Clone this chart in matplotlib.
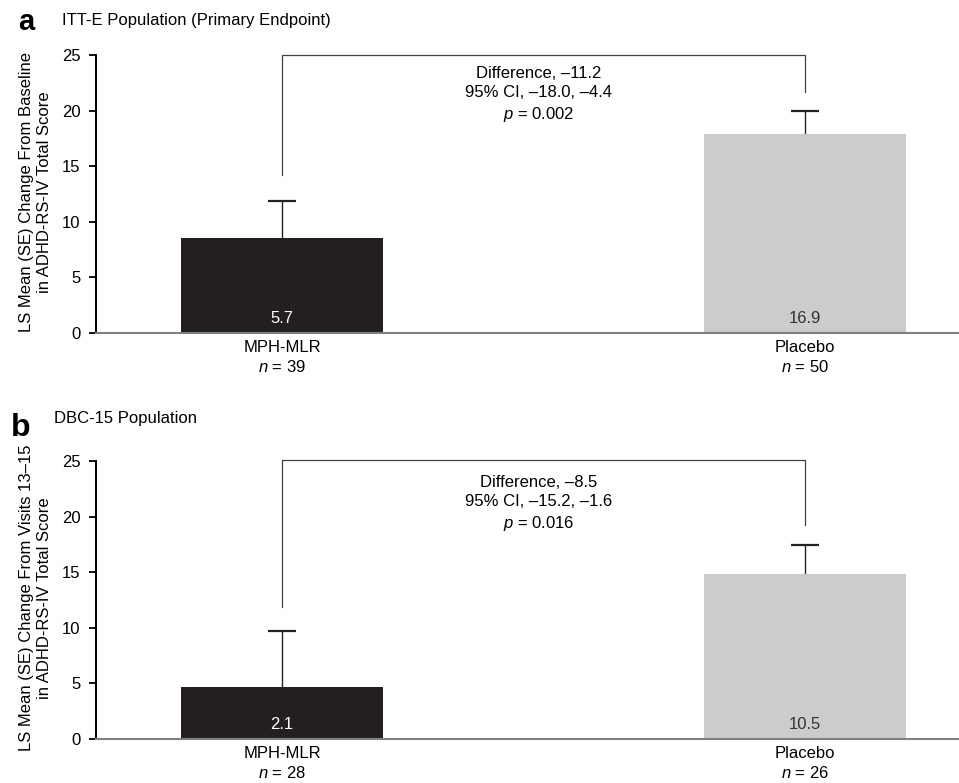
import numpy as np
import matplotlib
matplotlib.use('Agg')
import matplotlib.pyplot as plt

plt.rcParams['font.family'] = ['Liberation Sans', 'DejaVu Sans']
plt.rcParams['mathtext.fontset'] = 'custom'
plt.rcParams['mathtext.it'] = 'Liberation Sans:italic'
plt.rcParams['mathtext.rm'] = 'Liberation Sans'

# Données

groups = ['MPH-MLR', 'Placebo']
colors = ['#231f20', '#cbcccd']
label_colors = ['white', '#333333']

# panneau a
n_a = [39, 50]
bar_a = [8.5, 17.9]          # hauteur des barres
top_err_a = [11.9, 20.0]     # haut de l'erreur standard
value_a = ['5.7', '16.9']    # valeurs affichées dans les barres
bracket_a = [14.2, 25.0, 21.7]
stats_a = 'Difference, \u201311.2\n95% CI, \u201318.0, \u20134.4\n$p$ = 0.002'

# panneau b
n_b = [28, 26]
bar_b = [4.65, 14.8]
top_err_b = [9.7, 17.4]
value_b = ['2.1', '10.5']
bracket_b = [11.9, 25.1, 19.2]
stats_b = 'Difference, \u20138.5\n95% CI, \u201315.2, \u20131.6\n$p$ = 0.016'

fig = plt.figure(figsize=(9.59, 7.83), dpi=100)
ax_a = fig.add_axes([0.1, 0.5747, 0.9, 0.3593])
ax_b = fig.add_axes([0.1, 0.0566, 0.9, 0.3589])

x = np.array([0, 1])
fs = 12


def panneau(ax, bars, tops, vals, n, bracket, stats, ylabel, text_y):
    ax.bar(x, bars, width=0.386, color=colors, zorder=2)
    # erreur standard : trait vertical + chapeau
    ax.vlines(x, bars, tops, color='#222222', lw=1.0, zorder=1)
    ax.plot(x, tops, ls='', marker='_', markersize=20, mew=1.6,
            color='#222222', zorder=1)
    for i in range(2):
        ax.text(x[i], 1.3, vals[i], ha='center', va='center',
                color=label_colors[i], fontsize=fs, zorder=3)
    ax.plot([x[0], x[0], x[1], x[1]], bracket[:1] + [bracket[1]] * 2 + bracket[2:],
            color='#444444', lw=0.9)
    ax.text(0.49, text_y, stats, ha='center', va='top', fontsize=fs,
            linespacing=1.35)
    ax.set_xlim(-0.356, 1.294)
    ax.set_ylim(0, 25.3)
    ax.set_yticks([0, 5, 10, 15, 20, 25])
    ax.set_xticks(x)
    ax.set_xticklabels([g + '\n$n$ = ' + str(k) for g, k in zip(groups, n)],
                       fontsize=fs, linespacing=1.3)
    ax.tick_params(axis='x', length=0, pad=5)
    ax.tick_params(axis='y', labelsize=fs, direction='out', length=5,
                   width=1.3, pad=6)
    for s in ['top', 'right']:
        ax.spines[s].set_visible(False)
    ax.spines['left'].set_bounds(0, 25)
    ax.spines['left'].set_linewidth(1.4)
    ax.spines['bottom'].set_color('#808080')
    ax.spines['bottom'].set_linewidth(1.5)
    ax.set_ylabel(ylabel, fontsize=fs, linespacing=1.3, labelpad=7)


panneau(ax_a, bar_a, top_err_a, value_a, n_a, bracket_a, stats_a,
        'LS Mean (SE) Change From Baseline\nin ADHD-RS-IV Total Score', 24.05)
panneau(ax_b, bar_b, top_err_b, value_b, n_b, bracket_b, stats_b,
        'LS Mean (SE) Change From Visits 13\u201315\nin ADHD-RS-IV Total Score', 23.75)

fig.text(0.019, 0.962, 'a', fontsize=21, fontweight='bold', va='baseline')
fig.text(0.0647, 0.968, 'ITT-E Population (Primary Endpoint)', fontsize=fs, va='baseline')
fig.text(0.011, 0.443, 'b', fontsize=23, fontweight='bold', va='baseline')
fig.text(0.056, 0.46, 'DBC-15 Population', fontsize=fs, va='baseline')

fig.savefig('out.png', dpi=100)
